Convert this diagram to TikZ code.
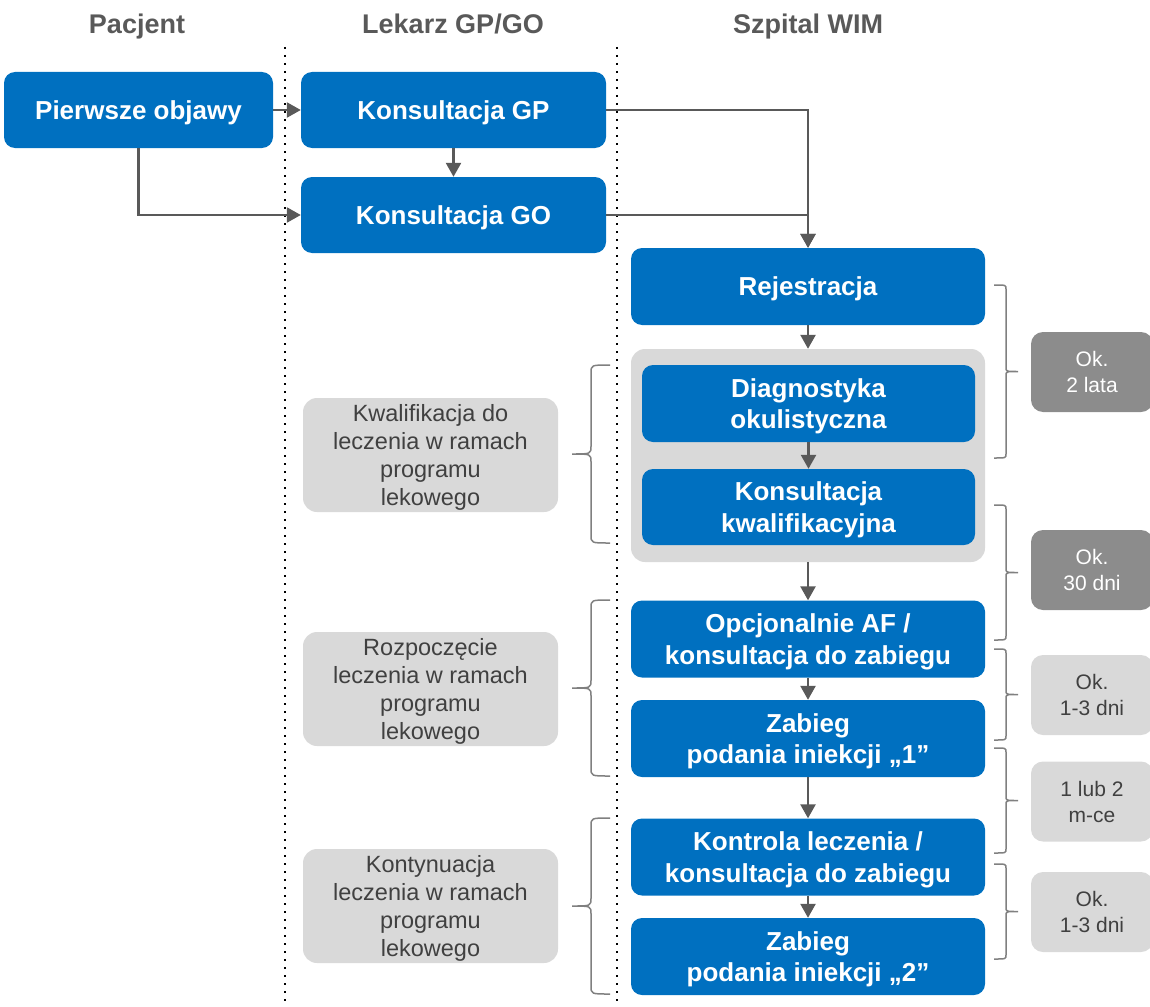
\documentclass[tikz,border=0pt]{standalone}
\usepackage{fontspec}
\setmainfont{Liberation Sans}
\usetikzlibrary{arrows.meta}
\definecolor{wimblue}{HTML}{0070C0}
\definecolor{arrowgray}{HTML}{595959}
\definecolor{notegray}{HTML}{D9D9D9}
\definecolor{taggray}{HTML}{8C8C8C}
\definecolor{notetext}{HTML}{404040}

% side brace: x, top, bottom, depth (negative = to the left), bend
\newcommand{\sidebrace}[5]{%
  \draw[gray, line width=1.5pt]
    (#1,#2) .. controls ({#1+#4/2},#2) .. ({#1+#4/2},{#2+#5})
    -- ({#1+#4/2},{(#2+#3)/2-#5}) .. controls ({#1+#4/2},{(#2+#3)/2}) .. ({#1+#4},{(#2+#3)/2})
    .. controls ({#1+#4/2},{(#2+#3)/2}) .. ({#1+#4/2},{(#2+#3)/2+#5})
    -- ({#1+#4/2},{#3-#5}) .. controls ({#1+#4/2},#3) .. (#1,#3);}

\begin{document}
\begin{tikzpicture}[x=1pt, y=-1pt,
  hdr/.style={text=arrowgray, anchor=base, font=\fontsize{27}{32}\selectfont\bfseries},
  lane/.style={black, line width=2pt, dash pattern=on 2pt off 6pt},
  bluebox/.style={fill=wimblue, text=white, rounded corners=11pt, align=center, inner sep=0pt,
    text depth=0pt, font=\fontsize{26}{31.5}\selectfont\bfseries},
  wimbox/.style={bluebox, minimum width=354pt, minimum height=77pt},
  notebox/.style={fill=notegray, text=notetext, rounded corners=14pt, align=center, inner sep=0pt,
    text depth=0pt, minimum width=255pt, minimum height=114pt, font=\fontsize{23.5}{28}\selectfont},
  tagbox/.style={rounded corners=12pt, align=center, inner sep=0pt, text depth=0pt,
    minimum width=122pt, minimum height=80pt, font=\fontsize{21}{26}\selectfont},
  darktag/.style={tagbox, fill=taggray, text=white},
  lighttag/.style={tagbox, fill=notegray, text=notetext},
  flow/.style={draw=arrowgray, line width=2.5pt, -{Triangle[width=15pt,length=14pt]}}]
  \def\pw{1150} \def\ph{1006}
  \useasboundingbox (0,0) rectangle (\pw,\ph);

  % Headers
  \node[hdr] (hpac) at (137,34) {Pacjent};
  \node[hdr] (hlek) at (453,34) {Lekarz GP/GO};
  \node[hdr] (hszp) at (808,34) {Szpital WIM};

  % Lanes
  \draw[lane] (285,47) -- (285,\ph);
  \draw[lane] (617,47) -- (617,\ph);

  % Pacjent / Lekarz GP/GO
  \node[bluebox, minimum width=269pt, minimum height=76pt] (objawy) at (138.5,110) {Pierwsze objawy};
  \node[bluebox, minimum width=305pt, minimum height=76pt] (konsgp) at (453.5,110) {Konsultacja GP};
  \node[bluebox, minimum width=305pt, minimum height=76pt] (konsgo) at (453.5,215) {Konsultacja GO};

  % Szpital WIM
  \node[wimbox] (rejestr) at (808,286.5) {Rejestracja};
  \node[fill=notegray, rounded corners=14pt, minimum width=354pt, minimum height=213pt] (kwalblk) at (808,455.5) {};
  \node[bluebox, minimum width=333pt, minimum height=77pt] (diagn) at (808.5,403.5) {Diagnostyka\\okulistyczna};
  \node[bluebox, minimum width=333pt, minimum height=76pt] (kwalif) at (808.5,507) {Konsultacja\\kwalifikacyjna};
  \node[wimbox] (opcjaf) at (808,639) {Opcjonalnie AF /\\konsultacja do zabiegu};
  \node[wimbox] (zabieg1) at (808,738.5) {Zabieg\\podania iniekcji „1”};
  \node[wimbox] (kontrola) at (808,857) {Kontrola leczenia /\\konsultacja do zabiegu};
  \node[wimbox] (zabieg2) at (808,956.5) {Zabieg\\podania iniekcji „2”};

  % Flow
  \draw[flow] (objawy.east) -- (konsgp.west);
  \draw[flow] (konsgp.south) -- (konsgo.north);
  \draw[flow] (objawy.south) |- (konsgo.west);
  \draw[flow] (konsgp.east) -| (rejestr.north);
  \draw[flow] (konsgo.east) -| (rejestr.north);
  \draw[flow] (rejestr.south) -- (kwalblk.north);
  \draw[flow] (diagn.south) -- (kwalif.north);
  \draw[flow] (kwalblk.south) -- (opcjaf.north);
  \draw[flow] (opcjaf.south) -- (zabieg1.north);
  \draw[flow] (zabieg1.south) -- (kontrola.north);
  \draw[flow] (kontrola.south) -- (zabieg2.north);

  % Program lekowy stages
  \node[notebox] (etap1) at (430.5,455) {Kwalifikacja do\\leczenia w ramach\\programu\\lekowego};
  \node[notebox] (etap2) at (430.5,689) {Rozpoczęcie\\leczenia w ramach\\programu\\lekowego};
  \node[notebox] (etap3) at (430.5,906) {Kontynuacja\\leczenia w ramach\\programu\\lekowego};
  \sidebrace{610}{365}{543}{-38}{8}
  \sidebrace{610}{600}{776}{-38}{8}
  \sidebrace{610}{818}{994}{-38}{8}

  % Czas
  \sidebrace{994}{285}{458}{24}{4}
  \sidebrace{994}{505}{640}{24}{4}
  \sidebrace{994}{649}{740}{24}{4}
  \sidebrace{994}{748}{853}{24}{4}
  \sidebrace{994}{864}{959}{24}{4}
  \node[darktag] (czas1) at (1092,372) {Ok.\\2 lata};
  \node[darktag] (czas2) at (1092,570) {Ok.\\30 dni};
  \node[lighttag] (czas3) at (1092,695) {Ok.\\1-3 dni};
  \node[lighttag] (czas4) at (1092,801.5) {1 lub 2\\m-ce};
  \node[lighttag] (czas5) at (1092,912) {Ok.\\1-3 dni};
\end{tikzpicture}
\end{document}
